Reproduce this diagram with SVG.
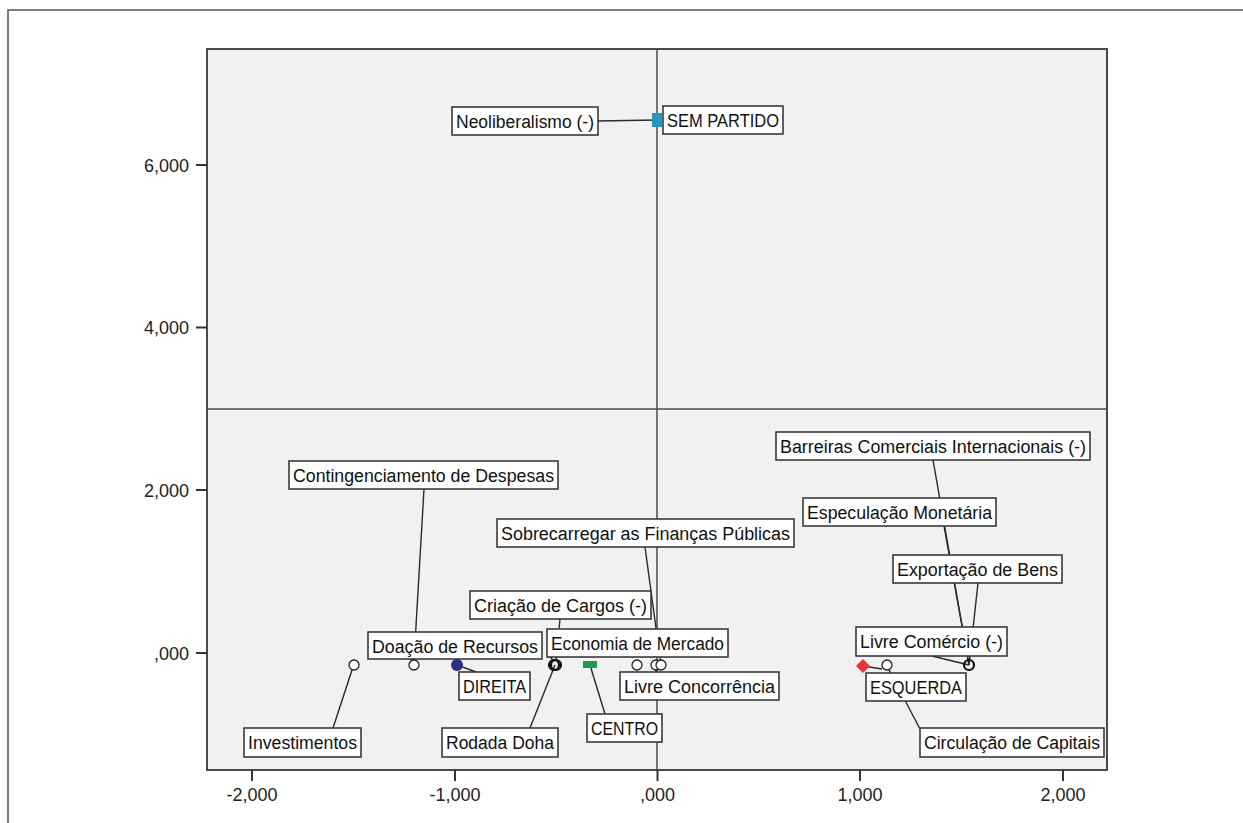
<svg xmlns="http://www.w3.org/2000/svg" width="1243" height="823" viewBox="0 0 1243 823">
<style>
.frame{fill:none;stroke:#555;stroke-width:1.5}
.plot{fill:#f1f1f1;stroke:#4a4a4a;stroke-width:2}
.mid{stroke:#4a4a4a;stroke-width:1.5}
.tick{stroke:#333;stroke-width:2}
.ax{font-family:"Liberation Sans",Arial,sans-serif;font-size:18px;fill:#222}
.box{fill:#fff;stroke:#3a3a3a;stroke-width:1.6}
.lbl{font-family:"Liberation Sans",Arial,sans-serif;font-size:18px;fill:#111}
.con{stroke:#2a2a2a;stroke-width:1.4;fill:none}
.pt{fill:#fff;stroke:#222;stroke-width:1.3}
.ptb{fill:none;stroke:#111;stroke-width:2.2}
</style>
<rect width="1243" height="823" fill="#fff"/>
<path class="frame" d="M8,823 V10 H1243"/>
<g id="plot-area">
<rect class="plot" x="207" y="49" width="900" height="721"/>
<line class="mid" x1="207" y1="409" x2="1107" y2="409"/>
<line class="mid" x1="657" y1="49" x2="657" y2="770"/>
</g>
<g id="y-axis">
<line class="tick" x1="196" y1="165" x2="207" y2="165"/>
<line class="tick" x1="196" y1="327.5" x2="207" y2="327.5"/>
<line class="tick" x1="196" y1="490" x2="207" y2="490"/>
<line class="tick" x1="196" y1="653" x2="207" y2="653"/>
<text class="ax" x="189" y="171.5" text-anchor="end">6,000</text>
<text class="ax" x="189" y="334" text-anchor="end">4,000</text>
<text class="ax" x="189" y="496.5" text-anchor="end">2,000</text>
<text class="ax" x="189" y="659.5" text-anchor="end">,000</text>
</g>
<g id="x-axis">
<line class="tick" x1="252" y1="770" x2="252" y2="781"/>
<line class="tick" x1="455" y1="770" x2="455" y2="781"/>
<line class="tick" x1="657.5" y1="770" x2="657.5" y2="781"/>
<line class="tick" x1="860" y1="770" x2="860" y2="781"/>
<line class="tick" x1="1063" y1="770" x2="1063" y2="781"/>
<text class="ax" x="252" y="801" text-anchor="middle">-2,000</text>
<text class="ax" x="455" y="801" text-anchor="middle">-1,000</text>
<text class="ax" x="657.5" y="801" text-anchor="middle">,000</text>
<text class="ax" x="860" y="801" text-anchor="middle">1,000</text>
<text class="ax" x="1063" y="801" text-anchor="middle">2,000</text>
</g>
<g id="connectors">
<line class="con" x1="598" y1="121" x2="657" y2="120"/>
<line class="con" x1="352" y1="670" x2="333" y2="728"/>
<line class="con" x1="424" y1="489" x2="414" y2="660"/>
<line class="con" x1="410" y1="659" x2="414" y2="661"/>
<line class="con" x1="457" y1="665" x2="476" y2="672"/>
<line class="con" x1="530" y1="728" x2="555" y2="665"/>
<line class="con" x1="560" y1="619" x2="556" y2="660"/>
<line class="con" x1="550" y1="657" x2="554" y2="661"/>
<line class="con" x1="645" y1="547" x2="661" y2="665"/>
<line class="con" x1="656" y1="665" x2="656" y2="672"/>
<line class="con" x1="590" y1="665" x2="605" y2="714"/>
<line class="con" x1="933" y1="460" x2="969" y2="665"/>
<line class="con" x1="944" y1="526" x2="969" y2="665"/>
<line class="con" x1="978" y1="583" x2="969" y2="665"/>
<line class="con" x1="932" y1="656" x2="969" y2="665"/>
<line class="con" x1="863" y1="666" x2="882" y2="669"/>
<line class="con" x1="887" y1="666" x2="920" y2="729"/>
</g>
<g id="points">
<circle class="pt" cx="354" cy="665" r="5"/>
<circle class="pt" cx="414" cy="665" r="5"/>
<circle cx="457" cy="665" r="6" fill="#2b2e87"/>
<circle class="ptb" cx="554" cy="665" r="5"/>
<circle class="ptb" cx="556" cy="665" r="5"/>
<rect x="583" y="661" width="14" height="7" fill="#1f9a4f"/>
<circle class="pt" cx="637" cy="665" r="5"/>
<circle class="pt" cx="656" cy="665" r="5"/>
<circle class="pt" cx="661" cy="665" r="5"/>
<path d="M863,659 L870,666 L863,673 L856,666 Z" fill="#e8333b"/>
<circle class="pt" cx="887" cy="665" r="5"/>
<circle class="ptb" cx="969" cy="665" r="5"/>
<rect x="652" y="113" width="10" height="14" fill="#2596be"/>
</g>
<g id="n-neoliberalismo"><rect class="box" x="452" y="107" width="146" height="28"/><text class="lbl" x="456" y="128" textLength="138" lengthAdjust="spacingAndGlyphs">Neoliberalismo (-)</text></g>
<g id="n-sem-partido"><rect class="box" x="663" y="106" width="120" height="28"/><text class="lbl" x="667" y="127" textLength="112" lengthAdjust="spacingAndGlyphs">SEM PARTIDO</text></g>
<g id="n-contingenciamento"><rect class="box" x="289" y="461" width="269" height="28"/><text class="lbl" x="293" y="482" textLength="261" lengthAdjust="spacingAndGlyphs">Contingenciamento de Despesas</text></g>
<g id="n-sobrecarregar"><rect class="box" x="497" y="519" width="297" height="28"/><text class="lbl" x="501" y="540" textLength="289" lengthAdjust="spacingAndGlyphs">Sobrecarregar as Finanças Públicas</text></g>
<g id="n-criacao"><rect class="box" x="470" y="591" width="181" height="28"/><text class="lbl" x="474" y="612" textLength="173" lengthAdjust="spacingAndGlyphs">Criação de Cargos (-)</text></g>
<g id="n-doacao"><rect class="box" x="368" y="632" width="174" height="27"/><text class="lbl" x="372" y="653" textLength="166" lengthAdjust="spacingAndGlyphs">Doação de Recursos</text></g>
<g id="n-economia"><rect class="box" x="547" y="629" width="181" height="28"/><text class="lbl" x="551" y="650" textLength="173" lengthAdjust="spacingAndGlyphs">Economia de Mercado</text></g>
<g id="n-direita"><rect class="box" x="459" y="672" width="71" height="28"/><text class="lbl" x="463" y="693" textLength="63" lengthAdjust="spacingAndGlyphs">DIREITA</text></g>
<g id="n-livre-concorrencia"><rect class="box" x="620" y="672" width="159" height="28"/><text class="lbl" x="624" y="693" textLength="151" lengthAdjust="spacingAndGlyphs">Livre Concorrência</text></g>
<g id="n-investimentos"><rect class="box" x="244" y="728" width="117" height="29"/><text class="lbl" x="248" y="749" textLength="109" lengthAdjust="spacingAndGlyphs">Investimentos</text></g>
<g id="n-rodada-doha"><rect class="box" x="442" y="728" width="116" height="29"/><text class="lbl" x="446" y="749" textLength="108" lengthAdjust="spacingAndGlyphs">Rodada Doha</text></g>
<g id="n-centro"><rect class="box" x="587" y="714" width="75" height="28"/><text class="lbl" x="591" y="735" textLength="67" lengthAdjust="spacingAndGlyphs">CENTRO</text></g>
<g id="n-barreiras"><rect class="box" x="776" y="432" width="314" height="28"/><text class="lbl" x="780" y="453" textLength="306" lengthAdjust="spacingAndGlyphs">Barreiras Comerciais Internacionais (-)</text></g>
<g id="n-especulacao"><rect class="box" x="803" y="498" width="193" height="28"/><text class="lbl" x="807" y="519" textLength="185" lengthAdjust="spacingAndGlyphs">Especulação Monetária</text></g>
<g id="n-exportacao"><rect class="box" x="893" y="555" width="169" height="28"/><text class="lbl" x="897" y="576" textLength="161" lengthAdjust="spacingAndGlyphs">Exportação de Bens</text></g>
<g id="n-livre-comercio"><rect class="box" x="856" y="627" width="151" height="29"/><text class="lbl" x="860" y="648" textLength="143" lengthAdjust="spacingAndGlyphs">Livre Comércio (-)</text></g>
<g id="n-esquerda"><rect class="box" x="866" y="673" width="100" height="28"/><text class="lbl" x="870" y="694" textLength="92" lengthAdjust="spacingAndGlyphs">ESQUERDA</text></g>
<g id="n-circulacao"><rect class="box" x="920" y="728" width="184" height="29"/><text class="lbl" x="924" y="749" textLength="176" lengthAdjust="spacingAndGlyphs">Circulação de Capitais</text></g>
</svg>
